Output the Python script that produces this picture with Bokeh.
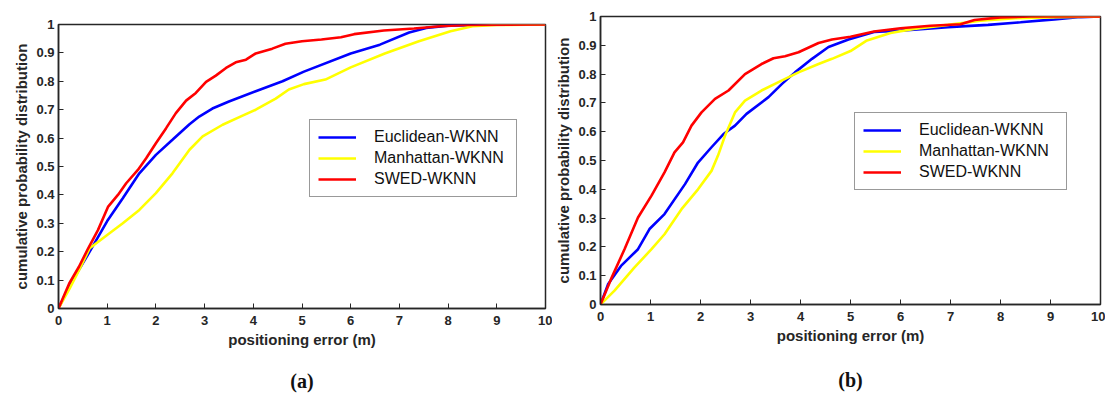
import re
from bokeh.plotting import figure
from bokeh.models import Range1d, FixedTicker, Legend, LegendItem, Title
from bokeh.embed import file_html
from bokeh.resources import INLINE

# ---------------- data: panel (a) ----------------
a_red_x = [0, 0.22, 0.42, 0.61, 0.81, 1.02, 1.22, 1.39, 1.63, 1.8, 2.0, 2.21, 2.41, 2.62, 2.82, 3.03, 3.23, 3.44, 3.64, 3.85, 4.05, 4.39, 4.66, 5.0, 5.4, 5.8, 6.07, 6.68, 7.3, 7.85, 8.4, 10]
a_red_y = [0, 0.088, 0.147, 0.212, 0.276, 0.359, 0.40, 0.441, 0.488, 0.529, 0.582, 0.635, 0.688, 0.732, 0.759, 0.798, 0.82, 0.847, 0.867, 0.876, 0.898, 0.915, 0.932, 0.941, 0.947, 0.955, 0.966, 0.979, 0.986, 0.994, 0.998, 1.0]
a_blue_x = [0, 0.23, 0.64, 1.0, 1.32, 1.66, 2.0, 2.34, 2.69, 2.89, 3.16, 3.5, 4.05, 4.6, 5.04, 6.0, 6.6, 7.2, 7.55, 8.0, 9.0, 10]
a_blue_y = [0, 0.082, 0.20, 0.308, 0.388, 0.476, 0.541, 0.594, 0.649, 0.676, 0.704, 0.729, 0.765, 0.80, 0.834, 0.898, 0.929, 0.972, 0.988, 0.996, 1.0, 1.0]
a_yel_x = [0, 0.23, 0.44, 0.64, 1.0, 1.32, 1.66, 2.0, 2.34, 2.69, 2.96, 3.37, 3.78, 4.05, 4.46, 4.73, 5.04, 5.48, 6.0, 6.7, 7.4, 8.05, 8.5, 9.0, 10]
a_yel_y = [0, 0.071, 0.141, 0.212, 0.259, 0.30, 0.347, 0.406, 0.476, 0.559, 0.606, 0.647, 0.679, 0.70, 0.739, 0.771, 0.790, 0.806, 0.849, 0.898, 0.941, 0.976, 0.994, 0.998, 1.0]

# ---------------- data: panel (b) ----------------
b_red_x = [0, 0.21, 0.48, 0.75, 1.02, 1.28, 1.48, 1.65, 1.82, 2.02, 2.29, 2.56, 2.89, 3.22, 3.46, 3.69, 3.96, 4.36, 4.63, 5.0, 5.47, 6.0, 6.6, 7.2, 7.48, 8.0, 8.6, 10]
b_red_y = [0, 0.088, 0.192, 0.302, 0.378, 0.459, 0.528, 0.563, 0.621, 0.667, 0.714, 0.743, 0.80, 0.835, 0.855, 0.862, 0.876, 0.908, 0.92, 0.930, 0.948, 0.959, 0.968, 0.973, 0.988, 0.997, 1.0, 1.0]
b_blue_x = [0, 0.15, 0.41, 0.75, 0.98, 1.28, 1.69, 1.95, 2.22, 2.46, 2.69, 2.92, 3.36, 3.63, 3.89, 4.23, 4.56, 4.96, 5.47, 6.0, 6.95, 7.75, 8.4, 9.08, 9.6, 10]
b_blue_y = [0, 0.07, 0.134, 0.192, 0.262, 0.314, 0.418, 0.493, 0.546, 0.592, 0.621, 0.662, 0.72, 0.766, 0.806, 0.853, 0.894, 0.920, 0.946, 0.951, 0.963, 0.971, 0.98, 0.99, 0.998, 1.0]
b_yel_x = [0, 0.28, 0.68, 1.02, 1.28, 1.62, 1.95, 2.22, 2.35, 2.49, 2.69, 2.89, 3.22, 3.56, 3.96, 4.36, 4.63, 5.0, 5.33, 5.8, 6.27, 6.95, 7.6, 8.3, 8.95, 10]
b_yel_y = [0, 0.048, 0.129, 0.192, 0.244, 0.331, 0.40, 0.464, 0.517, 0.586, 0.667, 0.708, 0.743, 0.772, 0.806, 0.835, 0.853, 0.880, 0.917, 0.943, 0.957, 0.971, 0.985, 0.994, 0.997, 1.0]

series_names = ["Euclidean-WKNN", "Manhattan-WKNN", "SWED-WKNN"]
x_ticks = [0, 1, 2, 3, 4, 5, 6, 7, 8, 9, 10]
y_ticks = [0, 0.1, 0.2, 0.3, 0.4, 0.5, 0.6, 0.7, 0.8, 0.9, 1]
x_label = "positioning error (m)"
y_label = "cumulative probability distribution"
panel_tags = ["(a)", "(b)"]

COLORS = ["#0000FF", "#FFFF00", "#FF0000"]
AX = "#262626"
FONT = "Liberation Sans"


def make_panel(frame_w, frame_h, borders, curves, legend_xy, label_w, tag, tag_standoff):
    left, right, top = borders
    p = figure(frame_width=frame_w, frame_height=frame_h,
               output_backend="svg", toolbar_location=None,
               x_range=Range1d(0, 10), y_range=Range1d(0, 1),
               min_border_left=left, min_border_right=right,
               min_border_top=top, min_border_bottom=5)
    p.title.visible = False
    p.grid.visible = False
    p.outline_line_color = AX
    p.outline_line_width = 1.5
    p.background_fill_color = "white"
    p.border_fill_color = "white"
    p.xaxis.ticker = FixedTicker(ticks=x_ticks)
    p.yaxis.ticker = FixedTicker(ticks=y_ticks)
    p.yaxis.major_label_overrides = {0: "0", 1: "1"}
    for ax in (p.xaxis, p.yaxis):
        ax.axis_line_color = AX
        ax.axis_line_width = 1.5
        ax.major_tick_line_color = AX
        ax.major_tick_in = 5
        ax.major_tick_out = 0
        ax.minor_tick_line_color = None
        ax.major_label_text_font = FONT
        ax.major_label_text_font_style = "bold"
        ax.major_label_text_font_size = "13px"
        ax.major_label_text_color = AX
        ax.axis_label_text_font = FONT
        ax.axis_label_text_font_style = "bold"
        ax.axis_label_text_font_size = "15px"
        ax.axis_label_text_color = AX
    p.xaxis.axis_label = x_label
    p.yaxis.axis_label = y_label
    p.xaxis.major_label_standoff = 7
    p.yaxis.major_label_standoff = 4
    p.xaxis.axis_label_standoff = 3
    p.yaxis.axis_label_standoff = 3

    items = []
    for (xs, ys), name, c in zip(curves, series_names, COLORS):
        r = p.line(xs, ys, line_color=c, line_width=2.6)
        items.append(LegendItem(label=name, renderers=[r]))
    leg = Legend(items=items, location=legend_xy)
    leg.label_text_font = FONT
    leg.label_text_font_size = "16px"
    leg.label_text_color = "#111111"
    leg.border_line_color = "#333333"
    leg.border_line_width = 1.2
    leg.glyph_width = 38
    leg.glyph_height = 14
    leg.label_height = 14
    leg.label_width = label_w
    leg.label_standoff = 18
    leg.spacing = 3
    leg.padding = 8
    leg.margin = 0
    leg.background_fill_alpha = 1
    p.add_layout(leg, "center")

    t = Title(text=tag, align="center", text_font="Liberation Serif", text_font_size="20px",
              text_font_style="bold", text_color="#111111", standoff=tag_standoff)
    p.add_layout(t, "below")
    return p


pa = make_panel(487, 284, (58, 7, 24),
                [(a_blue_x, a_blue_y), (a_yel_x, a_yel_y), (a_red_x, a_red_y)],
                (251, 111), 134, panel_tags[0], 34)
pb = make_panel(500, 288, (48, 5, 16),
                [(b_blue_x, b_blue_y), (b_yel_x, b_yel_y), (b_red_x, b_red_y)],
                (254, 114), 139, panel_tags[1], 41)

html = file_html([pa, pb], INLINE)
style = ("<style>html,body{margin:0;padding:0;overflow:hidden;}"
         "body{display:flex;flex-direction:row;align-items:flex-start;}</style>")
html = re.sub(r"</head>", style + "</head>", html, count=1)
open("out.html", "w").write(html)
